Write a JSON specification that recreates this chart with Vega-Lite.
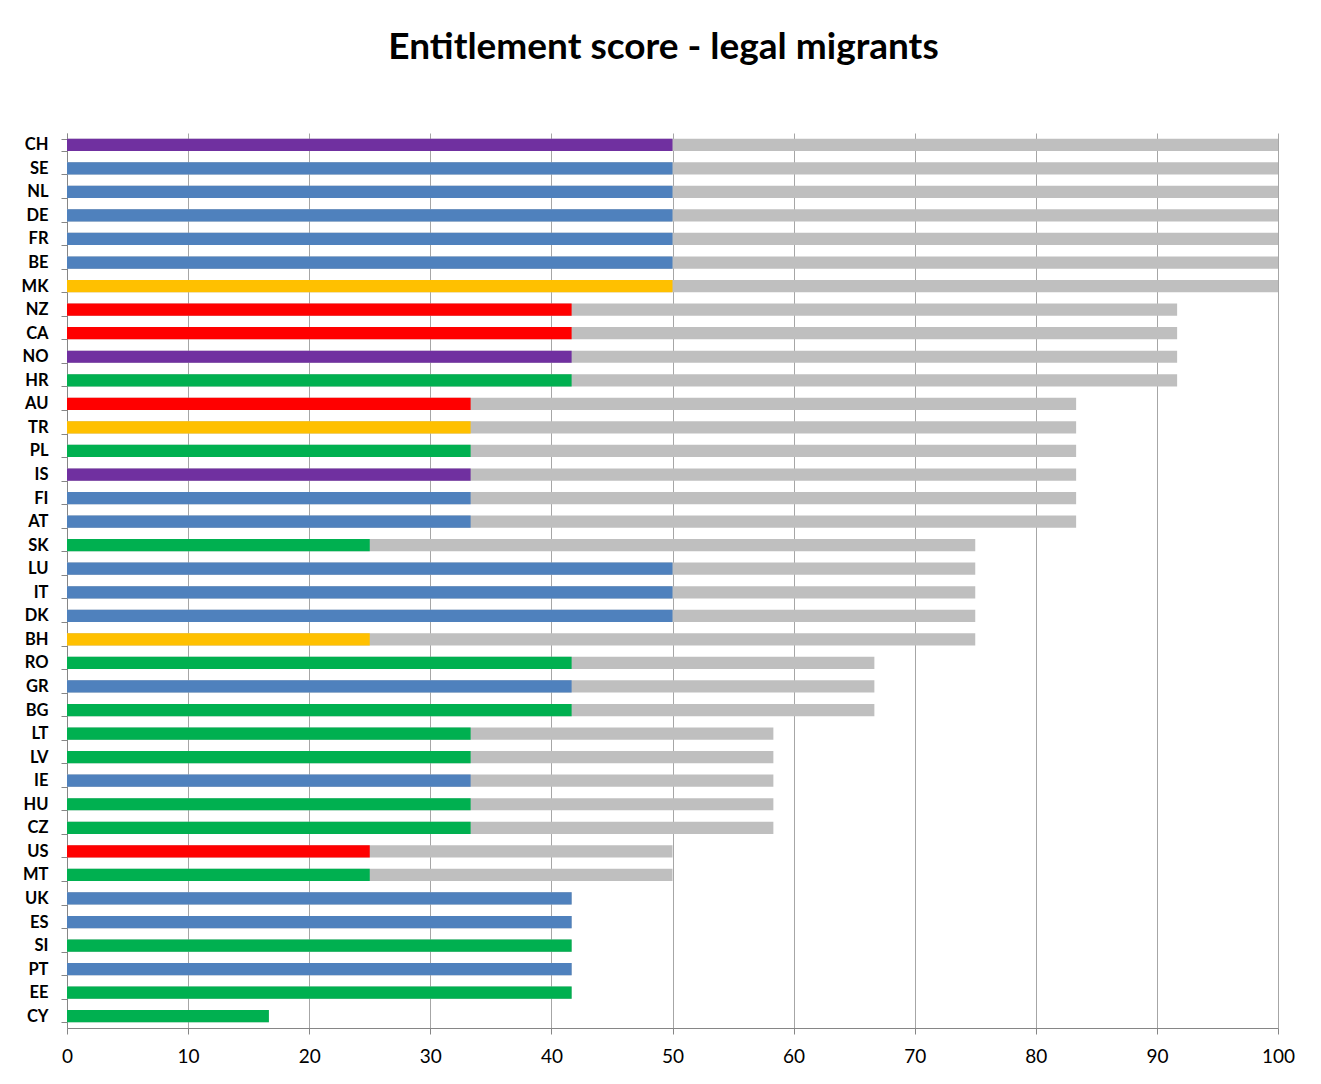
{
  "$schema": "https://vega.github.io/schema/vega-lite/v6.json",
  "autosize": {"type": "none"},
  "width": 1211,
  "height": 895,
  "padding": {"left": 67, "top": 133, "right": 43, "bottom": 56},
  "background": "white",
  "title": {
    "text": "Entitlement score - legal migrants",
    "font": "Lato",
    "fontSize": 37,
    "fontWeight": "bold",
    "color": "#000000",
    "anchor": "middle",
    "dx": -9,
    "offset": 58
  },
  "config": {"view": {"stroke": null}},
  "data": {
    "values": [
      {"c": "CH", "g": "purple", "v": 50, "t": 100},
      {"c": "SE", "g": "blue", "v": 50, "t": 100},
      {"c": "NL", "g": "blue", "v": 50, "t": 100},
      {"c": "DE", "g": "blue", "v": 50, "t": 100},
      {"c": "FR", "g": "blue", "v": 50, "t": 100},
      {"c": "BE", "g": "blue", "v": 50, "t": 100},
      {"c": "MK", "g": "yellow", "v": 50, "t": 100},
      {"c": "NZ", "g": "red", "v": 41.67, "t": 91.67},
      {"c": "CA", "g": "red", "v": 41.67, "t": 91.67},
      {"c": "NO", "g": "purple", "v": 41.67, "t": 91.67},
      {"c": "HR", "g": "green", "v": 41.67, "t": 91.67},
      {"c": "AU", "g": "red", "v": 33.33, "t": 83.33},
      {"c": "TR", "g": "yellow", "v": 33.33, "t": 83.33},
      {"c": "PL", "g": "green", "v": 33.33, "t": 83.33},
      {"c": "IS", "g": "purple", "v": 33.33, "t": 83.33},
      {"c": "FI", "g": "blue", "v": 33.33, "t": 83.33},
      {"c": "AT", "g": "blue", "v": 33.33, "t": 83.33},
      {"c": "SK", "g": "green", "v": 25, "t": 75},
      {"c": "LU", "g": "blue", "v": 50, "t": 75},
      {"c": "IT", "g": "blue", "v": 50, "t": 75},
      {"c": "DK", "g": "blue", "v": 50, "t": 75},
      {"c": "BH", "g": "yellow", "v": 25, "t": 75},
      {"c": "RO", "g": "green", "v": 41.67, "t": 66.67},
      {"c": "GR", "g": "blue", "v": 41.67, "t": 66.67},
      {"c": "BG", "g": "green", "v": 41.67, "t": 66.67},
      {"c": "LT", "g": "green", "v": 33.33, "t": 58.33},
      {"c": "LV", "g": "green", "v": 33.33, "t": 58.33},
      {"c": "IE", "g": "blue", "v": 33.33, "t": 58.33},
      {"c": "HU", "g": "green", "v": 33.33, "t": 58.33},
      {"c": "CZ", "g": "green", "v": 33.33, "t": 58.33},
      {"c": "US", "g": "red", "v": 25, "t": 50},
      {"c": "MT", "g": "green", "v": 25, "t": 50},
      {"c": "UK", "g": "blue", "v": 41.67, "t": 41.67},
      {"c": "ES", "g": "blue", "v": 41.67, "t": 41.67},
      {"c": "SI", "g": "green", "v": 41.67, "t": 41.67},
      {"c": "PT", "g": "blue", "v": 41.67, "t": 41.67},
      {"c": "EE", "g": "green", "v": 41.67, "t": 41.67},
      {"c": "CY", "g": "green", "v": 16.67, "t": 16.67}
    ]
  },
  "encoding": {
    "y": {
      "field": "c",
      "type": "nominal",
      "sort": null,
      "scale": {"paddingInner": 0.48, "paddingOuter": 0.24},
      "axis": {
        "title": null,
        "labelFont": "Lato",
        "labelFontSize": 16.5,
        "labelFontWeight": "bold",
        "labelColor": "#000000",
        "labelPadding": 13,
        "domainColor": "#868686",
        "tickColor": "#868686",
        "tickSize": 6,
        "tickBand": "extent",
        "tickExtra": true,
        "grid": false
      }
    }
  },
  "layer": [
    {
      "mark": {"type": "bar", "color": "#BFBFBF"},
      "encoding": {
        "x": {
          "field": "t",
          "type": "quantitative",
          "scale": {"domain": [0, 100], "nice": false},
          "axis": {
            "title": null,
            "values": [0, 10, 20, 30, 40, 50, 60, 70, 80, 90, 100],
            "labelFont": "Lato",
            "labelFontSize": 19,
            "labelColor": "#000000",
            "labelPadding": 13,
            "domainColor": "#868686",
            "tickColor": "#868686",
            "tickSize": 6,
            "gridColor": "#A6A6A6",
            "gridOpacity": 1,
            "labelFlush": false
          }
        }
      }
    },
    {
      "mark": {"type": "bar"},
      "encoding": {
        "x": {"field": "v", "type": "quantitative"},
        "color": {
          "field": "g",
          "type": "nominal",
          "legend": null,
          "scale": {
            "domain": ["purple", "blue", "yellow", "red", "green"],
            "range": ["#7030A0", "#4F81BD", "#FFC000", "#FF0000", "#00B050"]
          }
        }
      }
    }
  ]
}
